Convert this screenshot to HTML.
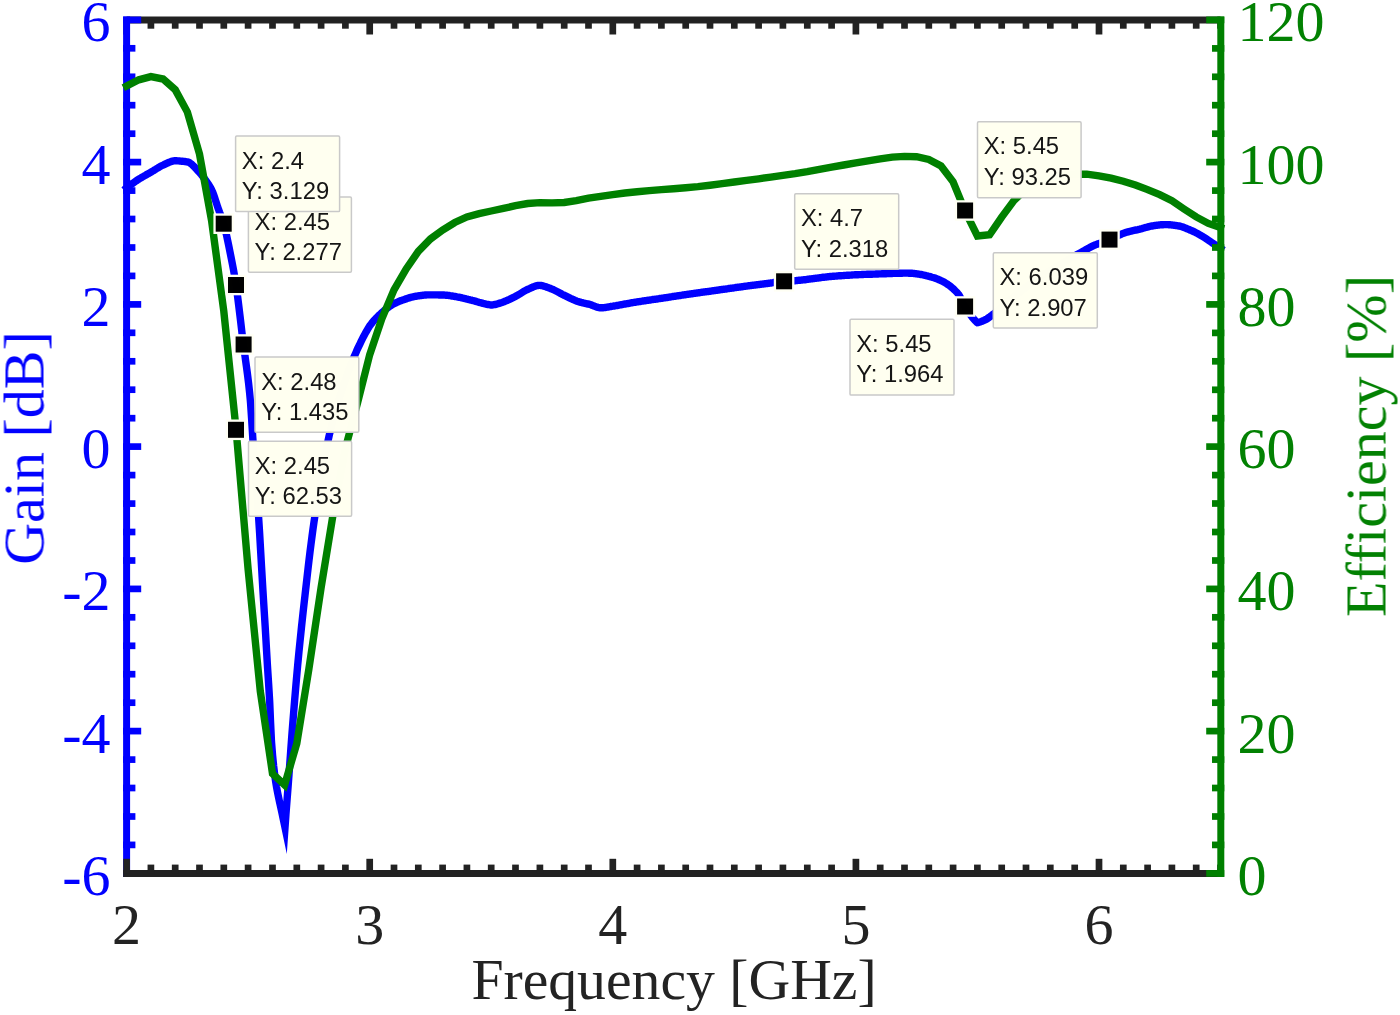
<!DOCTYPE html>
<html lang="en">
<head>
<meta charset="utf-8">
<title>Gain and Efficiency vs Frequency</title>
<style>
html,body{margin:0;padding:0;background:#ffffff;}
body{width:1400px;height:1015px;overflow:hidden;}
svg{display:block;}
</style>
</head>
<body>
<svg width="1400" height="1015" viewBox="0 0 1400 1015" role="img" aria-label="Gain and efficiency versus frequency">
<rect width="1400" height="1015" fill="#ffffff"/>
<g stroke="#222222" stroke-width="7.0" fill="none" stroke-linecap="butt">
<line x1="126.6" y1="19.9" x2="1220.5" y2="19.9"/>
</g>
<g stroke="#222222" stroke-width="6.7">
<line x1="126.6" y1="19.9" x2="126.6" y2="34.5"/>
<line x1="150.9" y1="19.9" x2="150.9" y2="28.7"/>
<line x1="175.2" y1="19.9" x2="175.2" y2="28.7"/>
<line x1="199.5" y1="19.9" x2="199.5" y2="28.7"/>
<line x1="223.8" y1="19.9" x2="223.8" y2="28.7"/>
<line x1="248.1" y1="19.9" x2="248.1" y2="28.7"/>
<line x1="272.5" y1="19.9" x2="272.5" y2="28.7"/>
<line x1="296.8" y1="19.9" x2="296.8" y2="28.7"/>
<line x1="321.1" y1="19.9" x2="321.1" y2="28.7"/>
<line x1="345.4" y1="19.9" x2="345.4" y2="28.7"/>
<line x1="369.7" y1="19.9" x2="369.7" y2="34.5"/>
<line x1="394.0" y1="19.9" x2="394.0" y2="28.7"/>
<line x1="418.3" y1="19.9" x2="418.3" y2="28.7"/>
<line x1="442.6" y1="19.9" x2="442.6" y2="28.7"/>
<line x1="466.9" y1="19.9" x2="466.9" y2="28.7"/>
<line x1="491.2" y1="19.9" x2="491.2" y2="28.7"/>
<line x1="515.5" y1="19.9" x2="515.5" y2="28.7"/>
<line x1="539.9" y1="19.9" x2="539.9" y2="28.7"/>
<line x1="564.2" y1="19.9" x2="564.2" y2="28.7"/>
<line x1="588.5" y1="19.9" x2="588.5" y2="28.7"/>
<line x1="612.8" y1="19.9" x2="612.8" y2="34.5"/>
<line x1="637.1" y1="19.9" x2="637.1" y2="28.7"/>
<line x1="661.4" y1="19.9" x2="661.4" y2="28.7"/>
<line x1="685.7" y1="19.9" x2="685.7" y2="28.7"/>
<line x1="710.0" y1="19.9" x2="710.0" y2="28.7"/>
<line x1="734.3" y1="19.9" x2="734.3" y2="28.7"/>
<line x1="758.6" y1="19.9" x2="758.6" y2="28.7"/>
<line x1="782.9" y1="19.9" x2="782.9" y2="28.7"/>
<line x1="807.3" y1="19.9" x2="807.3" y2="28.7"/>
<line x1="831.6" y1="19.9" x2="831.6" y2="28.7"/>
<line x1="855.9" y1="19.9" x2="855.9" y2="34.5"/>
<line x1="880.2" y1="19.9" x2="880.2" y2="28.7"/>
<line x1="904.5" y1="19.9" x2="904.5" y2="28.7"/>
<line x1="928.8" y1="19.9" x2="928.8" y2="28.7"/>
<line x1="953.1" y1="19.9" x2="953.1" y2="28.7"/>
<line x1="977.4" y1="19.9" x2="977.4" y2="28.7"/>
<line x1="1001.7" y1="19.9" x2="1001.7" y2="28.7"/>
<line x1="1026.0" y1="19.9" x2="1026.0" y2="28.7"/>
<line x1="1050.3" y1="19.9" x2="1050.3" y2="28.7"/>
<line x1="1074.7" y1="19.9" x2="1074.7" y2="28.7"/>
<line x1="1099.0" y1="19.9" x2="1099.0" y2="34.5"/>
<line x1="1123.3" y1="19.9" x2="1123.3" y2="28.7"/>
<line x1="1147.6" y1="19.9" x2="1147.6" y2="28.7"/>
<line x1="1171.9" y1="19.9" x2="1171.9" y2="28.7"/>
<line x1="1196.2" y1="19.9" x2="1196.2" y2="28.7"/>
<line x1="1220.5" y1="19.9" x2="1220.5" y2="28.7"/>
</g>
<g stroke="#0000ff" stroke-width="7.0">
<line x1="126.6" y1="16.4" x2="126.6" y2="876.9"/>
</g>
<g stroke="#0000ff" stroke-width="6.7">
<line x1="123.1" y1="873.4" x2="141.2" y2="873.4"/>
<line x1="123.1" y1="844.9" x2="135.4" y2="844.9"/>
<line x1="123.1" y1="816.5" x2="135.4" y2="816.5"/>
<line x1="123.1" y1="788.0" x2="135.4" y2="788.0"/>
<line x1="123.1" y1="759.6" x2="135.4" y2="759.6"/>
<line x1="123.1" y1="731.1" x2="141.2" y2="731.1"/>
<line x1="123.1" y1="702.7" x2="135.4" y2="702.7"/>
<line x1="123.1" y1="674.2" x2="135.4" y2="674.2"/>
<line x1="123.1" y1="645.8" x2="135.4" y2="645.8"/>
<line x1="123.1" y1="617.3" x2="135.4" y2="617.3"/>
<line x1="123.1" y1="588.9" x2="141.2" y2="588.9"/>
<line x1="123.1" y1="560.5" x2="135.4" y2="560.5"/>
<line x1="123.1" y1="532.0" x2="135.4" y2="532.0"/>
<line x1="123.1" y1="503.6" x2="135.4" y2="503.6"/>
<line x1="123.1" y1="475.1" x2="135.4" y2="475.1"/>
<line x1="123.1" y1="446.6" x2="141.2" y2="446.6"/>
<line x1="123.1" y1="418.2" x2="135.4" y2="418.2"/>
<line x1="123.1" y1="389.7" x2="135.4" y2="389.7"/>
<line x1="123.1" y1="361.3" x2="135.4" y2="361.3"/>
<line x1="123.1" y1="332.8" x2="135.4" y2="332.8"/>
<line x1="123.1" y1="304.4" x2="141.2" y2="304.4"/>
<line x1="123.1" y1="275.9" x2="135.4" y2="275.9"/>
<line x1="123.1" y1="247.5" x2="135.4" y2="247.5"/>
<line x1="123.1" y1="219.0" x2="135.4" y2="219.0"/>
<line x1="123.1" y1="190.6" x2="135.4" y2="190.6"/>
<line x1="123.1" y1="162.1" x2="141.2" y2="162.1"/>
<line x1="123.1" y1="133.7" x2="135.4" y2="133.7"/>
<line x1="123.1" y1="105.2" x2="135.4" y2="105.2"/>
<line x1="123.1" y1="76.8" x2="135.4" y2="76.8"/>
<line x1="123.1" y1="48.3" x2="135.4" y2="48.3"/>
<line x1="123.1" y1="19.9" x2="141.2" y2="19.9"/>
</g>
<g stroke="#222222" stroke-width="7.0">
<line x1="123.1" y1="873.4" x2="1220.5" y2="873.4"/>
</g>
<g stroke="#222222" stroke-width="6.7">
<line x1="126.6" y1="873.4" x2="126.6" y2="858.8"/>
<line x1="150.9" y1="873.4" x2="150.9" y2="864.6"/>
<line x1="175.2" y1="873.4" x2="175.2" y2="864.6"/>
<line x1="199.5" y1="873.4" x2="199.5" y2="864.6"/>
<line x1="223.8" y1="873.4" x2="223.8" y2="864.6"/>
<line x1="248.1" y1="873.4" x2="248.1" y2="864.6"/>
<line x1="272.5" y1="873.4" x2="272.5" y2="864.6"/>
<line x1="296.8" y1="873.4" x2="296.8" y2="864.6"/>
<line x1="321.1" y1="873.4" x2="321.1" y2="864.6"/>
<line x1="345.4" y1="873.4" x2="345.4" y2="864.6"/>
<line x1="369.7" y1="873.4" x2="369.7" y2="858.8"/>
<line x1="394.0" y1="873.4" x2="394.0" y2="864.6"/>
<line x1="418.3" y1="873.4" x2="418.3" y2="864.6"/>
<line x1="442.6" y1="873.4" x2="442.6" y2="864.6"/>
<line x1="466.9" y1="873.4" x2="466.9" y2="864.6"/>
<line x1="491.2" y1="873.4" x2="491.2" y2="864.6"/>
<line x1="515.5" y1="873.4" x2="515.5" y2="864.6"/>
<line x1="539.9" y1="873.4" x2="539.9" y2="864.6"/>
<line x1="564.2" y1="873.4" x2="564.2" y2="864.6"/>
<line x1="588.5" y1="873.4" x2="588.5" y2="864.6"/>
<line x1="612.8" y1="873.4" x2="612.8" y2="858.8"/>
<line x1="637.1" y1="873.4" x2="637.1" y2="864.6"/>
<line x1="661.4" y1="873.4" x2="661.4" y2="864.6"/>
<line x1="685.7" y1="873.4" x2="685.7" y2="864.6"/>
<line x1="710.0" y1="873.4" x2="710.0" y2="864.6"/>
<line x1="734.3" y1="873.4" x2="734.3" y2="864.6"/>
<line x1="758.6" y1="873.4" x2="758.6" y2="864.6"/>
<line x1="782.9" y1="873.4" x2="782.9" y2="864.6"/>
<line x1="807.3" y1="873.4" x2="807.3" y2="864.6"/>
<line x1="831.6" y1="873.4" x2="831.6" y2="864.6"/>
<line x1="855.9" y1="873.4" x2="855.9" y2="858.8"/>
<line x1="880.2" y1="873.4" x2="880.2" y2="864.6"/>
<line x1="904.5" y1="873.4" x2="904.5" y2="864.6"/>
<line x1="928.8" y1="873.4" x2="928.8" y2="864.6"/>
<line x1="953.1" y1="873.4" x2="953.1" y2="864.6"/>
<line x1="977.4" y1="873.4" x2="977.4" y2="864.6"/>
<line x1="1001.7" y1="873.4" x2="1001.7" y2="864.6"/>
<line x1="1026.0" y1="873.4" x2="1026.0" y2="864.6"/>
<line x1="1050.3" y1="873.4" x2="1050.3" y2="864.6"/>
<line x1="1074.7" y1="873.4" x2="1074.7" y2="864.6"/>
<line x1="1099.0" y1="873.4" x2="1099.0" y2="858.8"/>
<line x1="1123.3" y1="873.4" x2="1123.3" y2="864.6"/>
<line x1="1147.6" y1="873.4" x2="1147.6" y2="864.6"/>
<line x1="1171.9" y1="873.4" x2="1171.9" y2="864.6"/>
<line x1="1196.2" y1="873.4" x2="1196.2" y2="864.6"/>
<line x1="1220.5" y1="873.4" x2="1220.5" y2="864.6"/>
</g>
<polyline points="126.6,187.9 127.6,187.1 128.6,186.3 129.6,185.6 130.6,184.8 131.6,184.1 132.6,183.4 133.6,182.7 134.6,182.0 135.6,181.3 136.6,180.6 137.6,179.9 138.6,179.3 138.8,179.2 139.6,178.7 140.6,178.1 141.6,177.5 142.6,176.9 143.6,176.3 144.6,175.7 145.6,175.2 146.6,174.6 147.6,174.1 148.6,173.5 149.6,172.9 150.6,172.4 150.9,172.2 151.6,171.8 152.6,171.2 153.6,170.6 154.6,169.9 155.6,169.3 156.6,168.7 157.6,168.1 158.6,167.5 159.6,166.9 160.6,166.3 161.6,165.8 162.6,165.3 163.1,165.1 163.6,164.9 164.6,164.4 165.6,163.9 166.6,163.4 167.6,163.0 168.6,162.5 169.6,162.1 170.6,161.7 171.6,161.4 172.6,161.1 173.6,160.9 174.6,160.8 175.2,160.8 175.6,160.8 176.6,160.8 177.6,160.9 178.6,160.9 179.6,161.0 180.6,161.1 181.6,161.2 182.6,161.3 183.6,161.4 184.6,161.5 185.6,161.7 186.6,161.9 187.4,162.0 187.6,162.0 188.6,162.3 189.6,162.8 190.6,163.5 191.6,164.2 192.6,165.1 193.6,166.1 194.6,167.1 195.6,168.2 196.6,169.3 197.6,170.4 198.6,171.5 199.5,172.5 199.6,172.6 200.6,173.7 201.6,174.9 202.6,176.2 203.6,177.6 204.6,178.9 205.0,179.5 205.6,180.3 206.6,181.7 207.6,183.1 208.6,184.6 209.6,186.2 210.6,187.9 211.6,189.8 211.7,190.0 212.6,192.0 213.6,194.6 214.6,197.5 215.6,200.6 216.6,203.7 217.6,206.8 218.2,208.5 218.6,209.6 219.6,212.3 220.6,214.8 221.6,217.5 222.6,220.3 223.6,223.4 223.8,224.1 224.6,227.0 225.6,231.1 226.6,235.5 227.6,240.2 228.6,245.1 229.6,250.0 230.0,252.0 230.6,255.0 231.6,259.9 232.6,265.1 233.6,270.4 234.6,276.1 235.6,282.1 236.0,284.7 236.6,288.8 237.6,296.4 238.6,304.5 239.6,312.7 240.0,316.0 240.6,321.0 241.6,329.6 242.6,338.1 243.4,344.5 243.6,346.0 244.6,353.1 245.1,356.7 245.6,360.5 246.6,367.8 247.6,375.3 248.6,383.4 249.6,392.7 250.3,400.0 250.6,403.6 251.6,418.6 252.6,435.0 253.0,441.0 253.6,449.4 254.6,462.7 255.6,475.6 256.6,488.5 257.6,501.9 258.6,516.4 258.6,517.2 259.6,532.8 260.6,550.3 260.7,552.0 261.6,567.6 262.6,584.9 262.9,590.0 263.6,601.4 264.6,617.2 265.2,627.0 265.6,633.8 266.6,651.3 267.4,665.0 267.6,668.3 268.6,683.6 269.6,700.1 269.7,702.0 270.6,723.1 271.4,740.0 271.6,742.9 272.6,755.5 273.6,765.7 274.6,774.0 275.1,777.7 275.6,781.1 276.6,787.3 277.6,792.7 278.6,797.6 279.6,802.2 280.6,806.6 281.6,811.2 282.4,815.0 282.6,816.0 283.6,820.8 284.6,825.6 285.0,827.5 285.9,815.0 286.0,813.6 287.0,800.5 288.0,787.6 289.0,774.5 289.2,771.8 290.0,760.8 291.0,746.8 291.5,740.0 292.0,733.4 293.0,720.6 294.0,708.1 294.5,702.0 295.0,696.0 296.0,684.1 297.0,672.7 297.7,665.0 298.0,661.8 299.0,651.4 300.0,641.5 301.0,631.8 301.5,627.0 302.0,622.3 303.0,613.1 304.0,604.1 305.0,595.3 305.6,590.0 306.0,586.5 307.0,577.6 308.0,568.8 309.0,560.2 310.0,552.0 311.0,544.1 312.0,536.4 313.0,529.0 314.0,521.9 314.7,517.2 315.0,515.2 316.0,508.8 317.0,502.4 318.0,496.1 319.0,489.9 320.0,483.8 321.0,477.9 322.0,472.1 323.0,466.5 324.0,461.0 325.0,455.7 326.0,450.6 327.0,445.6 328.0,440.9 329.0,436.4 329.2,435.5 330.0,432.1 331.0,427.9 332.0,424.0 333.0,420.1 334.0,416.5 335.0,412.9 336.0,409.4 337.0,406.0 338.0,402.7 339.0,399.4 340.0,396.2 341.0,393.0 342.0,389.8 343.0,386.8 344.0,383.7 345.0,380.8 346.0,377.9 347.0,375.1 348.0,372.3 349.0,369.6 350.0,367.0 351.0,364.4 352.0,361.9 353.0,359.4 354.0,357.0 355.0,354.7 356.0,352.4 357.0,350.1 358.0,347.9 359.0,345.8 359.4,345.0 360.0,343.8 361.0,341.7 362.0,339.7 363.0,337.7 364.0,335.8 365.0,333.9 366.0,332.0 367.0,330.3 368.0,328.6 369.0,327.0 370.0,325.5 370.6,324.7 371.0,324.2 372.0,322.9 373.0,321.7 374.0,320.5 375.0,319.4 376.0,318.3 377.0,317.3 378.0,316.3 379.0,315.3 380.0,314.4 381.0,313.5 382.0,312.6 383.0,311.7 384.0,310.8 385.0,310.0 386.0,309.2 387.0,308.4 388.0,307.6 389.0,306.8 390.0,306.1 391.0,305.5 392.0,304.9 392.8,304.4 393.0,304.3 394.0,303.8 395.0,303.2 396.0,302.8 397.0,302.3 398.0,301.9 399.0,301.4 400.0,301.0 401.0,300.6 402.0,300.3 403.0,299.9 403.9,299.6 404.0,299.6 405.0,299.2 406.0,298.9 407.0,298.5 408.0,298.2 409.0,297.9 410.0,297.6 411.0,297.3 412.0,297.0 413.0,296.8 414.0,296.6 415.0,296.4 416.0,296.2 417.0,296.1 418.0,295.9 419.0,295.8 420.0,295.6 421.0,295.5 422.0,295.3 423.0,295.2 424.0,295.1 425.0,295.0 426.0,295.0 427.0,294.9 428.0,294.9 428.6,294.9 429.0,294.9 430.0,294.9 431.0,294.9 432.0,294.9 433.0,294.9 434.0,294.9 435.0,294.9 436.0,294.9 437.0,294.9 438.0,294.9 439.0,295.0 440.0,295.0 441.0,295.0 442.0,295.0 442.9,295.0 443.0,295.0 444.0,295.0 445.0,295.1 446.0,295.2 447.0,295.3 448.0,295.4 449.0,295.5 450.0,295.7 451.0,295.8 452.0,296.0 453.0,296.2 454.0,296.4 455.0,296.5 456.0,296.7 457.0,296.9 457.1,296.9 458.0,297.1 459.0,297.2 460.0,297.4 461.0,297.6 462.0,297.9 463.0,298.1 464.0,298.3 465.0,298.5 466.0,298.8 467.0,299.0 468.0,299.3 469.0,299.5 470.0,299.8 471.0,300.0 471.4,300.1 472.0,300.3 473.0,300.5 474.0,300.8 475.0,301.1 476.0,301.4 477.0,301.7 478.0,302.0 479.0,302.3 480.0,302.5 481.0,302.8 482.0,303.1 483.0,303.4 484.0,303.6 485.0,303.8 485.7,304.0 486.0,304.1 487.0,304.3 488.0,304.5 489.0,304.7 490.0,304.9 491.0,305.0 491.4,305.0 492.0,305.0 493.0,304.9 494.0,304.7 495.0,304.5 496.0,304.3 497.0,304.0 498.0,303.7 499.0,303.4 500.0,303.1 501.0,302.8 502.0,302.5 503.0,302.1 504.0,301.7 505.0,301.3 506.0,300.9 507.0,300.5 508.0,300.0 509.0,299.6 510.0,299.1 511.0,298.6 512.0,298.1 513.0,297.6 514.0,297.1 514.3,297.0 515.0,296.7 516.0,296.1 517.0,295.6 518.0,295.0 519.0,294.4 520.0,293.8 521.0,293.2 522.0,292.5 523.0,291.9 524.0,291.3 525.0,290.8 526.0,290.2 527.0,289.7 528.0,289.3 528.6,289.0 529.0,288.8 530.0,288.4 531.0,287.9 532.0,287.5 533.0,287.0 534.0,286.6 535.0,286.2 536.0,285.9 537.0,285.7 538.0,285.5 539.0,285.4 539.3,285.4 540.0,285.4 541.0,285.5 542.0,285.7 543.0,285.9 544.0,286.2 545.0,286.5 546.0,286.8 547.0,287.2 548.0,287.6 549.0,287.9 550.0,288.3 551.0,288.7 552.0,289.1 553.0,289.5 554.0,290.0 555.0,290.5 556.0,291.0 557.0,291.5 558.0,292.0 559.0,292.6 560.0,293.1 561.0,293.6 562.0,294.2 563.0,294.7 564.0,295.2 564.3,295.3 565.0,295.6 566.0,296.1 567.0,296.6 568.0,297.1 569.0,297.6 570.0,298.1 571.0,298.6 572.0,299.0 573.0,299.5 574.0,299.9 575.0,300.4 576.0,300.8 577.0,301.2 578.0,301.5 578.6,301.7 579.0,301.8 580.0,302.1 581.0,302.4 582.0,302.6 583.0,302.9 584.0,303.1 585.0,303.3 586.0,303.5 587.0,303.8 588.0,304.0 589.0,304.2 590.0,304.5 591.0,304.8 592.0,305.2 593.0,305.6 594.0,306.0 595.0,306.4 596.0,306.8 597.0,307.1 598.0,307.4 599.0,307.6 600.0,307.8 600.7,307.8 601.0,307.8 602.0,307.8 603.0,307.7 604.0,307.6 605.0,307.5 606.0,307.3 607.0,307.1 608.0,307.0 609.0,306.8 610.0,306.6 611.0,306.5 611.4,306.4 612.0,306.3 613.0,306.2 614.0,306.0 615.0,305.8 616.0,305.7 617.0,305.5 618.0,305.3 619.0,305.1 620.0,304.9 621.0,304.8 622.0,304.6 623.0,304.4 624.0,304.2 625.0,304.0 626.0,303.8 627.0,303.6 628.0,303.5 629.0,303.3 630.0,303.1 631.0,302.9 632.0,302.7 632.9,302.6 633.0,302.6 634.0,302.4 635.0,302.3 636.0,302.1 637.0,301.9 638.0,301.8 639.0,301.6 640.0,301.5 641.0,301.3 642.0,301.2 643.0,301.0 644.0,300.9 645.0,300.7 646.0,300.6 647.0,300.4 648.0,300.3 649.0,300.1 650.0,300.0 651.0,299.8 652.0,299.7 653.0,299.5 654.0,299.4 655.0,299.3 656.0,299.1 657.0,299.0 658.0,298.8 659.0,298.7 660.0,298.5 661.0,298.4 661.4,298.3 662.0,298.2 663.0,298.1 664.0,297.9 665.0,297.8 666.0,297.6 667.0,297.5 668.0,297.3 669.0,297.1 670.0,297.0 671.0,296.8 672.0,296.7 673.0,296.5 674.0,296.4 675.0,296.2 676.0,296.1 677.0,295.9 678.0,295.8 679.0,295.6 680.0,295.5 681.0,295.3 682.0,295.2 683.0,295.0 684.0,294.9 685.0,294.7 686.0,294.6 687.0,294.4 688.0,294.3 689.0,294.1 690.0,294.0 691.0,293.9 692.0,293.7 693.0,293.6 694.0,293.4 695.0,293.3 696.0,293.1 697.0,293.0 698.0,292.9 699.0,292.7 700.0,292.6 701.0,292.4 702.0,292.3 703.0,292.2 704.0,292.0 705.0,291.9 706.0,291.7 707.0,291.6 708.0,291.5 709.0,291.3 710.0,291.2 711.0,291.1 712.0,290.9 713.0,290.8 714.0,290.6 715.0,290.5 716.0,290.4 717.0,290.2 718.0,290.1 718.6,290.0 719.0,289.9 720.0,289.8 721.0,289.7 722.0,289.5 723.0,289.4 724.0,289.2 725.0,289.1 726.0,289.0 727.0,288.8 728.0,288.7 729.0,288.5 730.0,288.4 731.0,288.2 732.0,288.1 733.0,288.0 734.0,287.8 735.0,287.7 736.0,287.5 737.0,287.4 738.0,287.2 739.0,287.1 740.0,287.0 741.0,286.8 742.0,286.7 743.0,286.6 744.0,286.4 745.0,286.3 746.0,286.1 747.0,286.0 747.1,286.0 748.0,285.9 749.0,285.7 750.0,285.6 751.0,285.5 752.0,285.4 753.0,285.2 754.0,285.1 755.0,285.0 756.0,284.8 757.0,284.7 758.0,284.6 759.0,284.5 760.0,284.3 761.0,284.2 762.0,284.1 763.0,284.0 764.0,283.8 765.0,283.7 766.0,283.6 767.0,283.5 768.0,283.3 769.0,283.2 770.0,283.1 771.0,283.0 771.4,282.9 772.0,282.8 773.0,282.7 774.0,282.5 775.0,282.4 776.0,282.3 777.0,282.1 778.0,282.0 779.0,281.8 780.0,281.7 781.0,281.6 782.0,281.5 783.0,281.4 784.0,281.3 785.0,281.2 786.0,281.2 787.0,281.1 788.0,281.1 789.0,281.0 790.0,281.0 791.0,280.9 792.0,280.9 793.0,280.8 794.0,280.8 794.8,280.7 795.0,280.7 796.0,280.6 797.0,280.5 798.0,280.4 799.0,280.3 800.0,280.2 801.0,280.1 802.0,280.0 803.0,279.9 804.0,279.8 805.0,279.7 806.0,279.6 807.0,279.4 808.0,279.3 809.0,279.2 810.0,279.0 811.0,278.9 812.0,278.8 813.0,278.6 814.0,278.5 815.0,278.4 816.0,278.2 817.0,278.1 818.0,278.0 819.0,277.8 820.0,277.7 821.0,277.6 822.0,277.4 823.0,277.3 824.0,277.2 825.0,277.1 826.0,277.0 827.0,276.8 828.0,276.7 829.0,276.6 830.0,276.5 831.0,276.5 831.7,276.4 832.0,276.4 833.0,276.3 834.0,276.2 835.0,276.1 836.0,276.1 837.0,276.0 838.0,275.9 839.0,275.8 840.0,275.8 841.0,275.7 842.0,275.6 843.0,275.6 844.0,275.5 845.0,275.4 846.0,275.4 847.0,275.3 848.0,275.2 849.0,275.2 850.0,275.1 851.0,275.1 852.0,275.0 853.0,274.9 854.0,274.9 855.0,274.8 856.0,274.8 857.0,274.7 858.0,274.7 859.0,274.6 860.0,274.6 861.0,274.6 862.0,274.5 863.0,274.5 864.0,274.4 865.0,274.4 866.0,274.4 867.0,274.3 868.0,274.3 869.0,274.3 870.0,274.2 871.0,274.2 872.0,274.2 873.0,274.1 874.0,274.1 875.0,274.1 876.0,274.0 877.0,274.0 878.0,274.0 879.0,273.9 880.0,273.9 881.0,273.9 882.0,273.8 883.0,273.8 884.0,273.8 885.0,273.7 886.0,273.7 887.0,273.6 888.0,273.6 889.0,273.6 890.0,273.5 891.0,273.5 892.0,273.5 893.0,273.4 894.0,273.4 895.0,273.4 896.0,273.3 897.0,273.3 897.1,273.3 898.0,273.3 899.0,273.2 900.0,273.2 901.0,273.2 902.0,273.2 903.0,273.1 904.0,273.1 905.0,273.1 905.7,273.1 906.0,273.1 907.0,273.1 908.0,273.1 909.0,273.2 910.0,273.2 911.0,273.3 912.0,273.3 913.0,273.4 914.0,273.5 914.3,273.5 915.0,273.6 916.0,273.7 917.0,273.8 918.0,274.0 919.0,274.1 920.0,274.3 921.0,274.5 922.0,274.7 922.9,274.9 923.0,274.9 924.0,275.1 925.0,275.3 926.0,275.6 927.0,275.8 928.0,276.1 929.0,276.3 930.0,276.6 931.0,276.9 931.4,277.0 932.0,277.2 933.0,277.5 934.0,277.8 935.0,278.1 936.0,278.5 937.0,278.9 938.0,279.3 939.0,279.7 940.0,280.1 941.0,280.6 942.0,281.0 943.0,281.6 944.0,282.1 945.0,282.7 946.0,283.3 947.0,283.9 948.0,284.6 948.6,285.0 949.0,285.3 950.0,286.0 951.0,286.8 952.0,287.7 953.0,288.6 954.0,289.5 954.6,290.1 955.0,290.5 956.0,291.5 957.0,292.5 958.0,293.7 958.9,294.9 959.0,295.0 960.0,296.7 961.0,298.7 962.0,300.8 963.0,303.0 964.0,305.0 964.9,306.6 965.0,306.8 966.0,308.3 967.0,309.9 968.0,311.4 969.0,312.8 970.0,314.3 971.0,315.6 972.0,316.9 973.0,318.2 974.0,319.3 975.0,320.4 976.0,321.4 977.0,322.4 977.4,322.7 978.0,322.6 979.0,322.3 980.0,322.0 981.0,321.6 982.0,321.2 983.0,320.8 984.0,320.4 985.0,319.9 986.0,319.4 987.0,318.8 988.0,318.1 989.0,317.4 990.0,316.7 991.0,315.9 992.0,315.1 993.0,314.4 993.1,314.3 994.0,313.6 995.0,312.8 996.0,312.0 997.0,311.2 998.0,310.3 999.0,309.5 1000.0,308.6 1001.0,307.8 1002.0,306.9 1003.0,306.0 1004.0,305.1 1005.0,304.2 1006.0,303.4 1007.0,302.5 1008.0,301.7 1009.0,300.8 1010.0,300.0 1011.0,299.2 1012.0,298.4 1013.0,297.6 1014.0,296.8 1015.0,296.0 1016.0,295.2 1017.0,294.4 1018.0,293.6 1019.0,292.8 1020.0,292.0 1021.0,291.2 1022.0,290.4 1023.0,289.6 1024.0,288.8 1025.0,288.0 1026.0,287.3 1027.0,286.5 1028.0,285.7 1029.0,285.0 1030.0,284.2 1031.0,283.5 1032.0,282.7 1033.0,282.0 1034.0,281.2 1035.0,280.5 1036.0,279.8 1037.0,279.1 1038.0,278.4 1039.0,277.7 1040.0,277.0 1041.0,276.3 1042.0,275.6 1043.0,275.0 1044.0,274.3 1045.0,273.7 1046.0,273.0 1047.0,272.4 1048.0,271.8 1049.0,271.1 1050.0,270.5 1051.0,269.9 1052.0,269.3 1053.0,268.7 1054.0,268.0 1055.0,267.4 1056.0,266.8 1057.0,266.2 1058.0,265.6 1059.0,265.0 1060.0,264.5 1061.0,263.9 1062.0,263.3 1063.0,262.7 1064.0,262.1 1065.0,261.5 1066.0,260.9 1067.0,260.3 1068.0,259.7 1069.0,259.2 1070.0,258.6 1071.0,258.0 1072.0,257.4 1073.0,256.9 1074.0,256.3 1075.0,255.8 1076.0,255.2 1077.0,254.6 1078.0,254.1 1079.0,253.5 1080.0,253.0 1081.0,252.4 1082.0,251.9 1082.5,251.6 1083.0,251.3 1084.0,250.8 1085.0,250.2 1086.0,249.6 1087.0,249.1 1088.0,248.5 1089.0,247.9 1090.0,247.4 1091.0,246.9 1092.0,246.4 1093.0,245.9 1094.0,245.4 1094.3,245.3 1095.0,245.0 1096.0,244.6 1097.0,244.2 1098.0,243.9 1099.0,243.5 1100.0,243.2 1101.0,242.9 1102.0,242.5 1103.0,242.2 1104.0,241.9 1105.0,241.6 1106.0,241.2 1107.0,240.9 1108.0,240.5 1109.0,240.2 1109.9,239.8 1110.0,239.8 1111.0,239.3 1112.0,238.9 1113.0,238.4 1114.0,237.9 1115.0,237.3 1116.0,236.8 1117.0,236.3 1118.0,235.7 1119.0,235.2 1120.0,234.7 1121.0,234.3 1122.0,233.8 1123.0,233.4 1123.9,233.1 1124.0,233.1 1125.0,232.7 1126.0,232.4 1127.0,232.2 1128.0,231.9 1129.0,231.6 1130.0,231.4 1131.0,231.2 1132.0,230.9 1133.0,230.7 1134.0,230.5 1135.0,230.2 1136.0,230.0 1137.0,229.8 1138.0,229.6 1139.0,229.3 1140.0,229.1 1141.0,228.8 1142.0,228.6 1143.0,228.3 1144.0,228.0 1145.0,227.7 1146.0,227.5 1147.0,227.2 1148.0,226.9 1149.0,226.6 1150.0,226.4 1151.0,226.2 1152.0,226.0 1153.0,225.8 1154.0,225.6 1154.8,225.5 1155.0,225.5 1156.0,225.4 1157.0,225.2 1158.0,225.1 1159.0,225.0 1160.0,224.9 1161.0,224.8 1162.0,224.7 1163.0,224.7 1164.0,224.6 1165.0,224.6 1165.9,224.6 1166.0,224.6 1167.0,224.6 1168.0,224.6 1169.0,224.7 1170.0,224.8 1171.0,224.9 1172.0,225.0 1173.0,225.1 1174.0,225.2 1175.0,225.3 1176.0,225.5 1177.0,225.6 1178.0,225.8 1179.0,226.0 1180.0,226.2 1181.0,226.5 1182.0,226.8 1183.0,227.1 1184.0,227.5 1185.0,227.9 1186.0,228.3 1187.0,228.7 1188.0,229.1 1189.0,229.5 1190.0,230.0 1191.0,230.4 1191.7,230.7 1192.0,230.8 1193.0,231.3 1194.0,231.7 1195.0,232.2 1196.0,232.8 1197.0,233.3 1198.0,233.8 1199.0,234.4 1200.0,235.0 1201.0,235.5 1202.0,236.1 1202.8,236.6 1203.0,236.7 1204.0,237.3 1205.0,238.0 1206.0,238.6 1207.0,239.3 1208.0,240.0 1209.0,240.7 1210.0,241.3 1211.0,242.0 1212.0,242.7 1213.0,243.4 1213.9,244.0 1214.0,244.1 1215.0,244.7 1216.0,245.4 1217.0,246.0 1218.0,246.7 1219.0,247.4 1220.0,248.0 1220.6,248.4" fill="none" stroke="#0000ff" stroke-width="7.4" stroke-linejoin="miter" stroke-miterlimit="30" stroke-linecap="square"/>
<polyline points="126.6,86.0 138.8,79.8 150.9,76.6 163.1,79.0 175.2,89.7 187.4,112.1 199.5,154.0 211.7,221.4 223.8,311.3 236.0,428.6 248.1,569.1 260.3,691.3 272.5,773.6 284.6,785.0 296.8,743.5 308.9,668.9 321.1,587.6 333.2,513.7 345.4,448.4 357.5,403.1 369.7,354.7 381.8,318.9 394.0,289.8 406.2,268.9 418.3,251.4 430.5,238.9 442.6,230.0 454.8,222.5 466.9,216.9 479.1,213.6 491.2,211.0 503.4,208.4 515.5,205.7 527.7,203.5 539.9,202.6 552.0,202.9 564.2,202.5 576.3,200.6 588.5,198.2 600.6,196.4 612.8,194.6 624.9,193.0 637.1,191.8 649.2,190.6 661.4,189.6 673.6,188.7 685.7,187.7 697.9,186.6 710.0,185.2 722.2,183.6 734.3,182.0 746.5,180.4 758.6,178.8 770.8,177.1 782.9,175.4 795.1,173.7 807.3,171.7 819.4,169.4 831.6,167.2 843.7,165.0 855.9,162.9 868.0,160.9 880.2,158.9 892.3,157.1 904.5,156.4 916.6,156.7 928.8,159.4 941.0,166.0 953.1,181.8 965.3,211.6 977.4,236.0 989.6,234.8 1001.7,217.1 1013.9,200.6 1026.0,189.1 1038.2,182.2 1050.3,177.5 1062.5,175.4 1074.7,174.2 1086.8,174.2 1099.0,175.8 1111.1,178.1 1123.3,181.2 1135.4,185.1 1147.6,189.6 1159.7,194.7 1171.9,200.8 1184.0,209.0 1196.2,216.9 1208.4,223.4 1220.5,227.6" fill="none" stroke="#008000" stroke-width="7.4" stroke-linejoin="miter" stroke-miterlimit="10" stroke-linecap="square"/>
<g stroke="#008000" stroke-width="7.0">
<line x1="1220.8" y1="16.4" x2="1220.8" y2="876.9"/>
</g>
<g stroke="#008000" stroke-width="6.7">
<line x1="1224.3" y1="873.4" x2="1206.2" y2="873.4"/>
<line x1="1224.3" y1="844.9" x2="1212.0" y2="844.9"/>
<line x1="1224.3" y1="816.5" x2="1212.0" y2="816.5"/>
<line x1="1224.3" y1="788.0" x2="1212.0" y2="788.0"/>
<line x1="1224.3" y1="759.6" x2="1212.0" y2="759.6"/>
<line x1="1224.3" y1="731.1" x2="1206.2" y2="731.1"/>
<line x1="1224.3" y1="702.7" x2="1212.0" y2="702.7"/>
<line x1="1224.3" y1="674.2" x2="1212.0" y2="674.2"/>
<line x1="1224.3" y1="645.8" x2="1212.0" y2="645.8"/>
<line x1="1224.3" y1="617.3" x2="1212.0" y2="617.3"/>
<line x1="1224.3" y1="588.9" x2="1206.2" y2="588.9"/>
<line x1="1224.3" y1="560.5" x2="1212.0" y2="560.5"/>
<line x1="1224.3" y1="532.0" x2="1212.0" y2="532.0"/>
<line x1="1224.3" y1="503.5" x2="1212.0" y2="503.5"/>
<line x1="1224.3" y1="475.1" x2="1212.0" y2="475.1"/>
<line x1="1224.3" y1="446.6" x2="1206.2" y2="446.6"/>
<line x1="1224.3" y1="418.2" x2="1212.0" y2="418.2"/>
<line x1="1224.3" y1="389.8" x2="1212.0" y2="389.8"/>
<line x1="1224.3" y1="361.3" x2="1212.0" y2="361.3"/>
<line x1="1224.3" y1="332.9" x2="1212.0" y2="332.9"/>
<line x1="1224.3" y1="304.4" x2="1206.2" y2="304.4"/>
<line x1="1224.3" y1="275.9" x2="1212.0" y2="275.9"/>
<line x1="1224.3" y1="247.5" x2="1212.0" y2="247.5"/>
<line x1="1224.3" y1="219.0" x2="1212.0" y2="219.0"/>
<line x1="1224.3" y1="190.6" x2="1212.0" y2="190.6"/>
<line x1="1224.3" y1="162.1" x2="1206.2" y2="162.1"/>
<line x1="1224.3" y1="133.7" x2="1212.0" y2="133.7"/>
<line x1="1224.3" y1="105.2" x2="1212.0" y2="105.2"/>
<line x1="1224.3" y1="76.8" x2="1212.0" y2="76.8"/>
<line x1="1224.3" y1="48.4" x2="1212.0" y2="48.4"/>
<line x1="1224.3" y1="19.9" x2="1206.2" y2="19.9"/>
</g>
<g font-family="'Liberation Serif', 'Times New Roman', serif" font-size="58" opacity="0.995">
<g fill="#0000ff" text-anchor="end">
<text x="110.5" y="41.4">6</text>
<text x="110.5" y="183.6">4</text>
<text x="110.5" y="325.9">2</text>
<text x="110.5" y="468.1">0</text>
<text x="110.5" y="610.4">-2</text>
<text x="110.5" y="752.6">-4</text>
<text x="110.5" y="894.9">-6</text>
</g>
<g fill="#008000" text-anchor="start">
<text x="1237.5" y="41.4">120</text>
<text x="1237.5" y="183.6">100</text>
<text x="1237.5" y="325.9">80</text>
<text x="1237.5" y="468.1">60</text>
<text x="1237.5" y="610.4">40</text>
<text x="1237.5" y="752.6">20</text>
<text x="1237.5" y="894.9">0</text>
</g>
<g fill="#222222" text-anchor="middle">
<text x="126.6" y="944">2</text>
<text x="369.7" y="944">3</text>
<text x="612.8" y="944">4</text>
<text x="855.9" y="944">5</text>
<text x="1099.0" y="944">6</text>
<text x="674.0" y="999.3" font-size="57.7">Frequency [GHz]</text>
</g>
<text fill="#0000ff" text-anchor="middle" transform="translate(43.5 448) rotate(-90)">Gain [dB]</text>
<text fill="#008000" text-anchor="middle" transform="translate(1385.5 446) rotate(-90)">Efficiency [%]</text>
</g>
<g font-family="'Liberation Sans', Arial, Helvetica, sans-serif" font-size="23.8" fill="#151515" opacity="0.995">
<rect x="248.4" y="197.0" width="103.0" height="75.3" fill="#fffff0" stroke="#c9c9c9" stroke-width="1.5" rx="1.2"/>
<text x="254.6" y="229.6">X: 2.45</text>
<text x="254.6" y="260.1">Y: 2.277</text>
<rect x="235.6" y="136.0" width="104.0" height="75.6" fill="#fffff0" stroke="#c9c9c9" stroke-width="1.5" rx="1.2"/>
<text x="241.8" y="168.6">X: 2.4</text>
<text x="241.8" y="199.1">Y: 3.129</text>
<rect x="248.5" y="441.3" width="103.1" height="75.0" fill="#fffff0" stroke="#c9c9c9" stroke-width="1.5" rx="1.2"/>
<text x="254.7" y="473.9">X: 2.45</text>
<text x="254.7" y="504.4">Y: 62.53</text>
<rect x="255.0" y="357.0" width="103.8" height="75.3" fill="#fffff0" stroke="#c9c9c9" stroke-width="1.5" rx="1.2"/>
<text x="261.2" y="389.6">X: 2.48</text>
<text x="261.2" y="420.1">Y: 1.435</text>
<rect x="794.7" y="193.8" width="104.0" height="75.4" fill="#fffff0" stroke="#c9c9c9" stroke-width="1.5" rx="1.2"/>
<text x="800.9" y="226.4">X: 4.7</text>
<text x="800.9" y="256.9">Y: 2.318</text>
<rect x="850.0" y="319.3" width="104.0" height="75.8" fill="#fffff0" stroke="#c9c9c9" stroke-width="1.5" rx="1.2"/>
<text x="856.2" y="351.9">X: 5.45</text>
<text x="856.2" y="382.4">Y: 1.964</text>
<rect x="977.5" y="121.7" width="103.6" height="76.0" fill="#fffff0" stroke="#c9c9c9" stroke-width="1.5" rx="1.2"/>
<text x="983.7" y="154.3">X: 5.45</text>
<text x="983.7" y="184.8">Y: 93.25</text>
<rect x="993.3" y="252.7" width="104.0" height="75.3" fill="#fffff0" stroke="#c9c9c9" stroke-width="1.5" rx="1.2"/>
<text x="999.5" y="285.3">X: 6.039</text>
<text x="999.5" y="315.8">Y: 2.907</text>
<rect x="225.7" y="274.7" width="20.6" height="20.6" fill="#fffff4"/><rect x="228.0" y="277.0" width="16" height="16" fill="#000000"/>
<rect x="213.4" y="213.4" width="20.6" height="20.6" fill="#fffff4"/><rect x="215.7" y="215.7" width="16" height="16" fill="#000000"/>
<rect x="225.7" y="419.5" width="20.6" height="20.6" fill="#fffff4"/><rect x="228.0" y="421.8" width="16" height="16" fill="#000000"/>
<rect x="233.3" y="334.2" width="20.6" height="20.6" fill="#fffff4"/><rect x="235.6" y="336.5" width="16" height="16" fill="#000000"/>
<rect x="773.8" y="271.0" width="20.6" height="20.6" fill="#fffff4"/><rect x="776.1" y="273.3" width="16" height="16" fill="#000000"/>
<rect x="954.8" y="296.2" width="20.6" height="20.6" fill="#fffff4"/><rect x="957.1" y="298.5" width="16" height="16" fill="#000000"/>
<rect x="954.8" y="200.2" width="20.6" height="20.6" fill="#fffff4"/><rect x="957.1" y="202.5" width="16" height="16" fill="#000000"/>
<rect x="1099.2" y="229.3" width="20.6" height="20.6" fill="#fffff4"/><rect x="1101.5" y="231.6" width="16" height="16" fill="#000000"/>
</g>
</svg>
</body>
</html>
